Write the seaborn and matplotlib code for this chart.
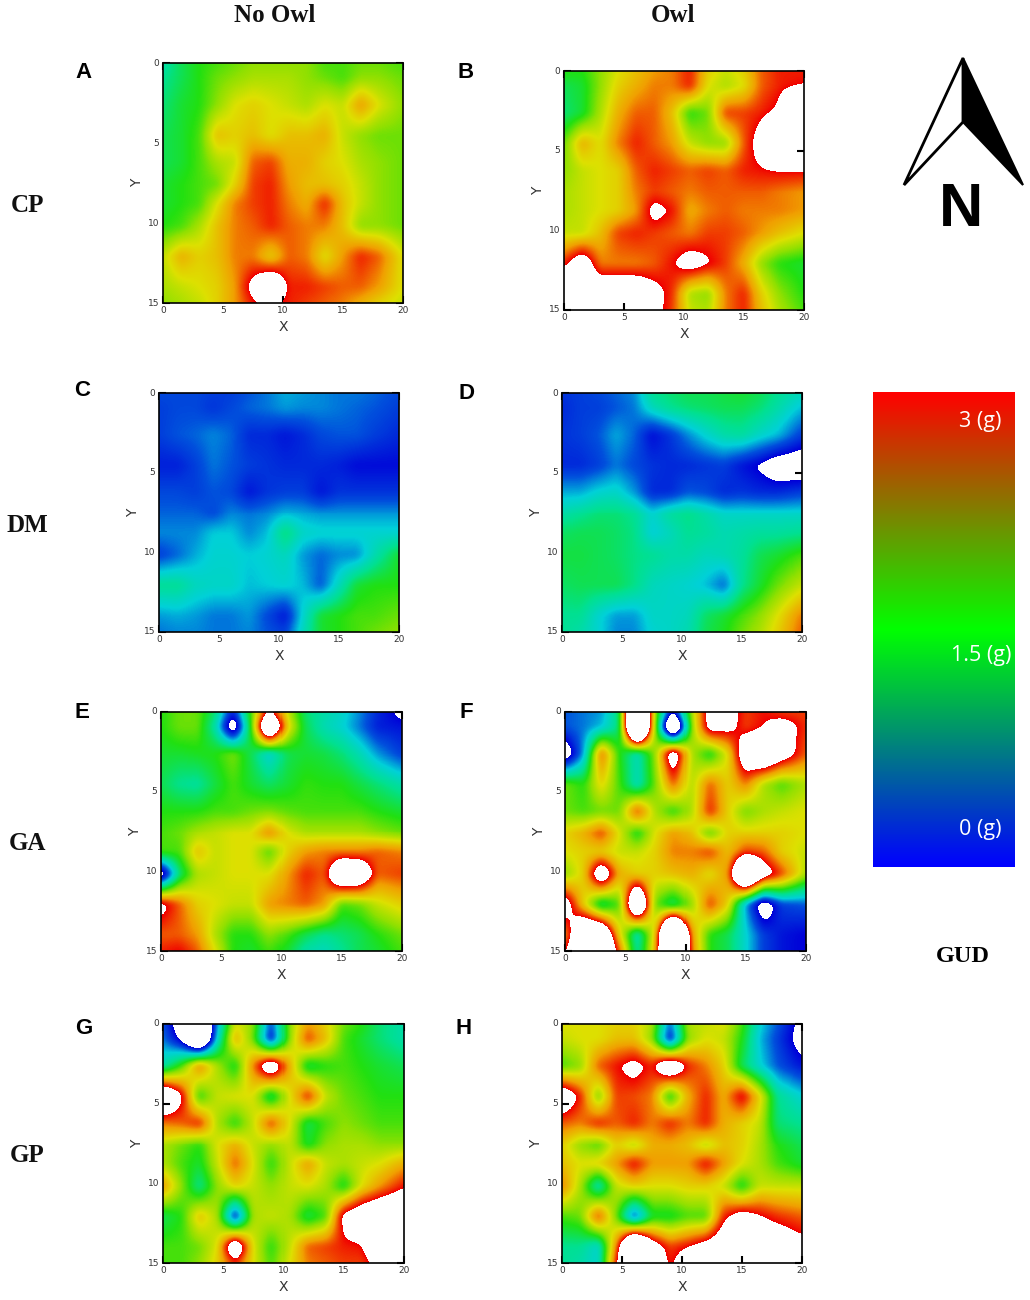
import numpy as np
import seaborn as sns
import matplotlib.pyplot as plt
from matplotlib.colors import LinearSegmentedColormap
from matplotlib.patches import Polygon

sns.set_theme(style="white")

W, H = 1030, 1300

# sampling positions of the GUD readings in the plot units
X_NODES = [0, 1.5, 3, 4.5, 6, 7.5, 9, 10.5, 12, 13.5, 15, 16.5, 18, 20]
Y_NODES = [0, 0.9, 2.6, 4.5, 6.2, 7.6, 8.8, 10.2, 12.1, 14, 15]
X_TICKS = [0, 5, 10, 15, 20]
Y_TICKS = [0, 5, 10, 15]

# GUD in grams, above 3 or below 0 is off the scale and stays blank
CP_NO_OWL = [
    [1.0, 1.3, 1.5, 1.6, 1.7, 1.8, 1.8, 1.8, 1.8, 1.6, 1.6, 1.7, 1.7, 1.6],
    [1.1, 1.3, 1.5, 1.7, 1.8, 1.9, 1.9, 1.9, 1.8, 1.7, 1.6, 1.8, 1.8, 1.7],
    [1.2, 1.4, 1.5, 1.8, 2.1, 2.2, 2.1, 2.0, 1.9, 2.1, 2.0, 2.5, 2.1, 1.8],
    [1.3, 1.4, 1.6, 2.3, 2.2, 2.3, 2.1, 2.3, 2.3, 2.4, 2.0, 1.8, 1.7, 1.7],
    [1.3, 1.4, 1.6, 1.9, 2.0, 2.7, 2.8, 2.4, 2.4, 2.2, 2.1, 1.9, 1.8, 1.7],
    [1.4, 1.5, 1.6, 1.7, 2.2, 2.8, 2.9, 2.5, 2.3, 2.3, 2.2, 2.0, 1.8, 1.7],
    [1.4, 1.5, 1.6, 2.1, 2.6, 2.8, 2.9, 2.6, 2.4, 2.9, 2.3, 2.0, 1.8, 1.7],
    [1.5, 1.6, 1.9, 2.3, 2.6, 2.7, 2.9, 2.7, 2.6, 2.6, 2.3, 1.8, 1.8, 1.7],
    [2.0, 2.4, 2.2, 2.3, 2.6, 2.6, 2.2, 2.7, 2.6, 2.1, 2.5, 2.9, 2.7, 2.1],
    [1.9, 2.0, 2.1, 2.2, 2.5, 3.2, 3.8, 2.9, 2.9, 2.8, 2.7, 2.7, 2.5, 2.1],
    [1.8, 1.9, 2.0, 2.2, 2.5, 2.95, 3.1, 2.9, 2.8, 2.7, 2.6, 2.4, 2.2, 2.0],
]
CP_OWL = [
    [1.5, 1.5, 1.8, 2.1, 2.3, 2.5, 2.6, 2.9, 2.2, 2.0, 2.2, 2.7, 2.9, 2.9],
    [1.3, 1.4, 1.8, 2.2, 2.4, 2.6, 2.6, 2.9, 2.1, 1.9, 2.1, 2.7, 2.9, 3.0],
    [1.2, 1.4, 1.9, 2.4, 2.7, 2.7, 2.3, 1.5, 1.7, 2.8, 2.8, 2.9, 3.1, 5.0],
    [1.7, 2.4, 2.1, 2.6, 2.9, 2.7, 2.5, 2.0, 1.8, 1.8, 2.7, 3.3, 5.0, 5.0],
    [1.8, 2.0, 2.1, 2.2, 2.7, 2.9, 2.8, 2.7, 2.8, 2.7, 2.9, 2.95, 3.0, 3.0],
    [1.9, 2.0, 2.1, 2.2, 2.6, 2.8, 2.7, 2.6, 2.7, 2.7, 2.7, 2.7, 2.6, 2.5],
    [1.9, 2.0, 2.1, 2.2, 2.5, 3.2, 2.95, 2.4, 2.6, 2.7, 2.6, 2.6, 2.6, 2.5],
    [2.0, 2.0, 2.3, 2.8, 2.9, 2.8, 2.7, 2.6, 2.8, 2.8, 2.7, 2.5, 2.3, 2.1],
    [2.9, 3.5, 2.6, 2.6, 2.6, 2.7, 2.95, 3.3, 3.05, 2.8, 2.4, 1.8, 1.5, 1.4],
    [3.6, 3.6, 3.6, 3.6, 3.6, 3.2, 2.85, 1.9, 1.8, 2.6, 2.9, 2.2, 1.8, 1.5],
    [3.8, 3.8, 3.8, 3.8, 3.6, 3.2, 2.8, 2.0, 1.9, 2.6, 2.9, 2.3, 1.9, 1.6],
]
DM_NO_OWL = [
    [.35, .35, .35, .3, .3, .4, .5, .65, .6, .55, .5, .5, .45, .35],
    [.3, .35, .35, .25, .35, .45, .5, .6, .55, .55, .5, .45, .4, .3],
    [.3, .4, .45, .55, .45, .2, .2, .1, .2, .35, .4, .4, .3, .2],
    [.15, .15, .3, .5, .4, .3, .25, .2, .2, .2, .15, .05, .05, .05],
    [.35, .35, .3, .4, .35, .1, .25, .3, .3, .1, .25, .25, .25, .25],
    [.45, .45, .45, .35, .55, .5, .55, .7, .65, .6, .6, .6, .6, .6],
    [.55, .55, .55, .75, .75, .55, .7, 1.2, .85, .8, .8, .8, .8, .8],
    [.3, .45, .65, .8, .8, .75, .8, .9, .6, .45, .55, .55, .95, 1.4],
    [1.1, 1.1, .9, .85, .85, .7, .75, .8, .7, .4, .9, 1.4, 1.5, 1.5],
    [.6, .65, .6, .5, .5, .6, .35, .1, .8, 1.4, 1.5, 1.6, 1.6, 1.7],
    [.5, .55, .55, .5, .5, .55, .4, .3, .9, 1.4, 1.5, 1.6, 1.7, 1.8],
]
DM_OWL = [
    [.25, .3, .35, .45, .55, 1.1, 1.2, 1.3, 1.3, 1.35, 1.4, 1.3, 1.1, .9],
    [.2, .3, .3, .4, .5, .9, 1.1, 1.2, 1.25, 1.3, 1.3, 1.2, 1.0, .7],
    [.25, .3, .4, .65, .45, .05, .25, .55, .8, 1.0, 1.05, .85, .7, .3],
    [.2, .2, .3, .5, .35, .25, .2, .2, .25, .3, .1, -.05, -.3, -.35],
    [.65, .65, .8, .85, .6, .2, .2, .4, .35, .2, .25, .2, .2, .3],
    [1.0, 1.1, 1.2, 1.2, 1.1, .8, 1.05, 1.15, 1.0, .85, .85, .85, .85, .85],
    [1.25, 1.3, 1.3, 1.25, 1.15, .75, .9, 1.1, 1.05, .95, 1.0, 1.05, 1.05, 1.1],
    [1.35, 1.35, 1.3, 1.25, 1.15, 1.1, 1.0, 1.0, .9, .95, 1.05, 1.3, 1.4, 1.6],
    [1.25, 1.3, 1.3, 1.3, 1.15, .9, .85, .8, .7, .45, 1.1, 1.4, 1.7, 2.0],
    [1.1, 1.1, .8, .6, .6, .85, .85, .9, 1.25, 1.4, 1.6, 1.8, 2.1, 2.6],
    [1.1, 1.0, .8, .55, .55, .8, .85, .95, 1.3, 1.45, 1.7, 1.9, 2.2, 2.7],
]
GA_NO_OWL = [
    [1.5, 1.7, 1.7, 1.2, .1, 1.6, 3.2, 2.0, 1.2, 1.0, .85, .55, .2, -.1],
    [1.5, 1.7, 1.7, 1.0, -.5, 1.5, 4.5, 2.2, 1.3, .95, .8, .5, .15, .1],
    [1.4, 1.4, 1.45, 1.5, 1.75, 1.3, .75, 1.3, 1.4, 1.35, 1.2, .95, .6, .3],
    [1.3, 1.1, 1.05, 1.35, 1.6, 1.4, 1.25, 1.4, 1.55, 1.5, 1.5, 1.35, 1.2, 1.0],
    [1.5, 1.5, 1.5, 1.6, 1.6, 1.7, 1.75, 1.65, 1.6, 1.6, 1.6, 1.6, 1.5, 1.4],
    [1.6, 1.7, 1.9, 2.0, 2.1, 2.1, 2.6, 2.1, 1.9, 1.9, 1.9, 1.9, 1.8, 1.7],
    [1.6, 1.6, 2.3, 2.0, 2.1, 2.1, 1.6, 2.2, 2.5, 2.6, 2.6, 2.6, 2.7, 2.6],
    [-.4, 1.2, 1.9, 2.0, 2.1, 2.1, 2.1, 2.5, 2.9, 2.7, 4.0, 3.8, 2.7, 2.8],
    [3.2, 2.7, 2.2, 2.1, 2.0, 2.0, 2.5, 2.6, 2.7, 2.5, 1.6, 1.7, 2.0, 2.2],
    [2.7, 2.7, 2.5, 1.9, 1.5, 1.5, 1.8, 1.6, 1.3, 1.1, 1.2, 1.3, 1.5, 1.7],
    [2.9, 3.0, 2.7, 2.1, 1.5, 1.4, 1.6, 1.4, 1.0, .9, 1.1, 1.3, 1.4, 1.6],
]
GA_OWL = [
    [.4, .5, .6, 1.2, 6.0, 1.8, -.1, 1.9, 3.3, 3.3, 2.8, 2.95, 2.8, 2.8],
    [.4, .5, .7, 1.2, 6.0, 1.8, -1.5, 1.8, 3.3, 3.2, 2.8, 3.0, 3.3, 2.85],
    [-.4, .6, 2.7, 1.5, .9, 1.8, 3.6, 1.9, 1.4, 2.1, 3.6, 4.0, 3.4, 2.7],
    [1.7, 1.5, 2.2, 1.6, .9, 1.7, 2.7, 1.9, 2.7, 2.2, 2.6, 1.9, 1.6, 1.9],
    [1.7, 1.6, 1.7, 1.7, 2.8, 1.9, 1.5, 1.9, 2.9, 2.2, 1.7, 1.9, 2.0, 2.1],
    [2.2, 2.4, 2.8, 2.1, 1.4, 2.1, 2.5, 2.3, 1.6, 2.2, 2.2, 2.2, 2.2, 2.1],
    [2.1, 2.2, 2.2, 2.0, 2.0, 2.2, 2.6, 2.6, 2.8, 2.3, 2.8, 2.7, 2.2, 2.0],
    [1.8, 2.2, 3.7, 2.4, 2.2, 2.2, 2.3, 2.4, 2.1, 2.5, 5.0, 3.4, 2.8, 1.9],
    [3.4, 2.2, 1.2, 1.6, 4.5, 1.7, 1.2, 1.8, 2.8, 2.2, .6, -.4, .3, .4],
    [2.5, 4.2, 4.2, 2.2, .9, 2.2, 6.0, 2.5, 1.5, 1.3, .8, .3, .1, .0],
    [2.9, 4.5, 4.5, 2.7, 1.0, 2.3, 6.0, 2.6, 1.5, 1.3, .8, .3, .1, .0],
]
GP_NO_OWL = [
    [.4, -.4, -1.5, .6, 2.1, 1.8, .3, 1.8, 2.5, 2.2, 1.7, 1.5, 1.2, 1.0],
    [.5, -.1, -1.5, .8, 2.4, 1.7, .1, 1.8, 2.8, 2.3, 1.6, 1.4, 1.2, 1.0],
    [1.0, 1.6, 2.6, 1.9, 1.4, 2.6, 3.7, 2.4, 1.3, 1.5, 1.6, 1.5, 1.4, 1.3],
    [4.0, 3.1, 1.5, 2.0, 2.1, 2.1, 1.2, 2.1, 2.9, 2.0, 1.7, 1.6, 1.5, 1.5],
    [2.6, 2.7, 2.9, 1.9, 1.5, 2.0, 2.8, 2.1, 1.3, 1.6, 1.8, 1.7, 1.6, 1.6],
    [1.9, 1.7, 1.5, 2.1, 2.4, 2.0, 1.8, 2.0, 1.4, 1.8, 1.9, 1.9, 1.8, 1.8],
    [1.9, 1.6, 1.4, 2.0, 2.7, 2.1, 1.5, 2.0, 2.5, 2.0, 1.9, 2.0, 2.1, 2.4],
    [2.5, 1.8, 1.1, 1.8, 2.2, 2.0, 1.8, 2.0, 2.1, 1.9, 1.4, 2.1, 2.5, 2.95],
    [1.3, 1.5, 2.3, 1.9, .1, 1.9, 2.0, 1.9, 1.3, 1.6, 3.2, 3.6, 3.8, 3.9],
    [1.6, 1.6, 1.7, 2.1, 3.8, 2.1, 1.5, 2.0, 2.7, 2.8, 2.9, 2.95, 3.8, 3.9],
    [1.6, 1.6, 1.8, 2.2, 2.9, 2.1, 1.6, 2.1, 2.6, 2.7, 2.8, 2.8, 3.2, 3.9],
]
GP_OWL = [
    [2.1, 2.1, 2.1, 2.2, 2.2, 1.9, .4, 1.9, 2.0, 2.1, 1.6, .8, .4, -.15],
    [2.0, 2.1, 2.1, 2.3, 2.3, 1.8, .1, 1.8, 2.1, 2.0, 1.5, .7, .3, -.2],
    [1.6, 1.8, 2.7, 2.95, 3.2, 2.9, 3.8, 2.9, 2.6, 2.2, 1.3, .8, .4, .1],
    [3.6, 2.9, 1.7, 2.8, 2.75, 2.6, 1.4, 2.4, 2.9, 2.4, 3.1, 2.2, 1.1, .8],
    [2.7, 2.6, 2.9, 2.7, 2.9, 2.6, 2.9, 2.6, 2.9, 2.4, 2.2, 2.0, 1.2, 1.1],
    [2.2, 1.8, 1.6, 2.2, 1.9, 2.4, 2.4, 2.3, 1.9, 2.3, 2.2, 1.9, 1.5, 1.3],
    [2.3, 2.1, 2.2, 2.5, 3.0, 2.5, 2.5, 2.5, 3.0, 2.5, 2.1, 1.9, 1.6, 1.4],
    [2.6, 1.9, .9, 2.0, 2.2, 2.1, 2.1, 2.2, 2.2, 2.0, 1.4, 2.0, 2.0, 2.0],
    [1.6, 1.7, 2.8, 1.7, .3, 1.4, 1.4, 1.6, 1.6, 2.9, 3.3, 3.05, 2.85, 2.7],
    [1.1, 1.1, .8, 2.6, 5.0, 3.4, 2.8, 3.0, 3.3, 3.6, 3.6, 3.5, 3.5, 3.2],
    [1.1, 1.0, .8, 2.9, 5.0, 3.6, 2.9, 3.4, 3.9, 3.9, 3.9, 3.9, 3.9, 3.9],
]

PANELS = [
    ("A", CP_NO_OWL, (163, 63, 403, 303), (83, 72)),
    ("B", CP_OWL, (564, 71, 804, 310), (466, 72)),
    ("C", DM_NO_OWL, (159, 393, 399, 632), (82, 390)),
    ("D", DM_OWL, (562, 393, 802, 632), (466, 393)),
    ("E", GA_NO_OWL, (161, 712, 402, 951), (82, 712)),
    ("F", GA_OWL, (565, 712, 806, 951), (466, 712)),
    ("G", GP_NO_OWL, (163, 1024, 404, 1263), (84, 1029)),
    ("H", GP_OWL, (562, 1024, 802, 1263), (464, 1029)),
]

COLUMN_TITLES = [("No Owl", 275, 16), ("Owl", 673, 16)]
ROW_TITLES = [("CP", 27, 205), ("DM", 27, 526), ("GA", 27, 843), ("GP", 27, 1156)]
BAR_LABELS = [("3 (g)", 980, 421), ("1.5 (g)", 981, 656), ("0 (g)", 980, 830)]
BAR_COLORS = ["#0000ff", "#00ff00", "#ff0000"]

gud_cmap = LinearSegmentedColormap.from_list(
    "gud",
    [
        (0.0, "#0000d8"),
        (0.13, "#0050dc"),
        (0.25, "#00d0d8"),
        (0.37, "#00e090"),
        (0.5, "#20e010"),
        (0.6, "#90e000"),
        (0.7, "#dde000"),
        (0.83, "#f0a000"),
        (0.93, "#f04000"),
        (1.0, "#f00000"),
    ],
)
# off-scale readings are see-through, so the inward ticks show in them
gud_cmap.set_over((1, 1, 1, 0))
gud_cmap.set_under((1, 1, 1, 0))


def smooth_grid(grid, size=240, sigma=3.0):
    """Resample a reading grid to `size` cells for the soft contour look."""
    xi = np.linspace(0, 20, size)
    yi = np.linspace(0, 15, size)
    rows = np.array([np.interp(xi, X_NODES, r) for r in grid])
    fine = np.array([np.interp(yi, Y_NODES, c) for c in rows.T]).T
    half = int(sigma * 3)
    kernel = np.exp(-0.5 * (np.arange(-half, half + 1) / sigma) ** 2)
    kernel /= kernel.sum()
    padded = np.pad(fine, half, mode="edge")
    padded = np.apply_along_axis(np.convolve, 0, padded, kernel, mode="same")
    padded = np.apply_along_axis(np.convolve, 1, padded, kernel, mode="same")
    return padded[half:-half, half:-half]


def add_axes_px(fig, box):
    left, top, right, bottom = box
    return fig.add_axes([left / W, 1 - bottom / H, (right - left) / W, (bottom - top) / H])


def put_text(fig, label, x, y, **kwargs):
    fig.text(x / W, 1 - y / H, label, ha="center", va="center", **kwargs)


def draw_panel(fig, grid, box):
    ax = add_axes_px(fig, box)
    fine = smooth_grid(grid)
    sns.heatmap(fine, vmin=0, vmax=3, cmap=gud_cmap, cbar=False, ax=ax)
    size = fine.shape[0]
    ax.set_axisbelow(True)
    ax.set_xticks([t / 20 * size for t in X_TICKS], [str(t) for t in X_TICKS], rotation=0)
    ax.set_yticks([t / 15 * size for t in Y_TICKS], [str(t) for t in Y_TICKS], rotation=0)
    ax.tick_params(
        which="major", direction="in", length=5, width=1.5, color="black",
        top=True, right=True, bottom=True, left=True,
        labelsize=6.5, labelcolor="#333333", pad=2.5,
    )
    ax.set_xlabel("X", fontsize=10, color="#333333", labelpad=3)
    ax.set_ylabel("Y", fontsize=10, color="#333333", labelpad=3)
    for spine in ax.spines.values():
        spine.set_visible(True)
        spine.set_color("black")
        spine.set_linewidth(1.2)


def draw_legend(fig):
    ax = add_axes_px(fig, (873, 392, 1015, 867))
    levels = np.linspace(3, 0, 256).reshape(-1, 1)
    bar_cmap = LinearSegmentedColormap.from_list("gud_bar", BAR_COLORS)
    sns.heatmap(levels, vmin=0, vmax=3, cmap=bar_cmap, cbar=False, xticklabels=False, yticklabels=False, ax=ax)
    for label, x, y in BAR_LABELS:
        put_text(fig, label, x, y, fontsize=15.5, color="white", family="Open Sans")
    put_text(fig, "GUD", 963, 957, fontsize=17.5, fontweight="bold", family="Liberation Serif", color="black")


def draw_north_arrow(fig):
    ax = fig.add_axes([0, 0, 1, 1], zorder=5)
    ax.set_xlim(0, W)
    ax.set_ylim(H, 0)
    ax.axis("off")
    ax.patch.set_alpha(0)
    ax.add_patch(Polygon([(963, 58), (904, 185), (963, 122)], closed=True, fc="white", ec="black", lw=2, joinstyle="miter"))
    ax.add_patch(Polygon([(963, 58), (1023, 185), (963, 122)], closed=True, fc="black", ec="black", lw=1.5, joinstyle="miter"))
    put_text(fig, "N", 961, 210, fontsize=44, fontweight="bold", family="Liberation Sans", color="black")


def main():
    fig = plt.figure(figsize=(W / 100, H / 100), dpi=100, facecolor="white")
    for letter, grid, box, (lx, ly) in PANELS:
        draw_panel(fig, grid, box)
        put_text(fig, letter, lx, ly, fontsize=16, fontweight="bold", family="Liberation Sans", color="black")
    for label, x, y in COLUMN_TITLES + ROW_TITLES:
        put_text(fig, label, x, y, fontsize=18, fontweight="bold", family="Liberation Serif", color="#111111")
    draw_legend(fig)
    draw_north_arrow(fig)
    fig.savefig("out.png", dpi=100)
    plt.close(fig)


if __name__ == "__main__":
    main()
